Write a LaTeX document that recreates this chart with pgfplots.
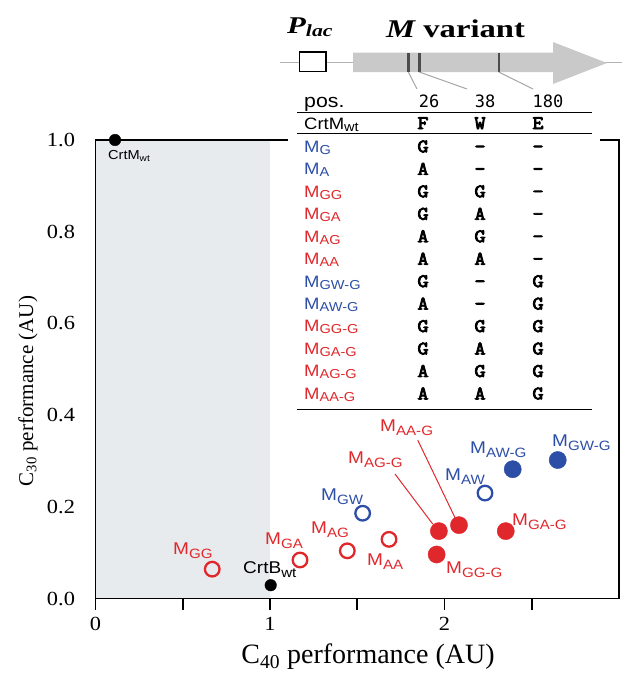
\documentclass[border=0pt]{standalone}
\usepackage{pgfplots}
\pgfplotsset{compat=1.18}
\usepackage{fontspec}
\setmainfont{Liberation Serif}
\newfontfamily\ssf{Liberation Sans}[FakeStretch=1.12]
\newfontfamily\tmono{Latin Modern Mono}[FakeBold=4.5,FakeStretch=1.12]
\newfontfamily\dmono{DejaVu Sans Mono}
\newfontfamily\tnr{Liberation Serif}
\newfontfamily\tnrt{Liberation Serif}[FakeStretch=1.12]
\newfontfamily\tnrw{Liberation Serif}[FakeStretch=1.28]
\definecolor{mred}{HTML}{E0282C}
\definecolor{mblue}{HTML}{2C4EA6}
\definecolor{shadec}{HTML}{E8EBED}
\definecolor{arrowgray}{HTML}{C9C9C9}
\newcommand{\Mlab}[1]{{\ssf\fontsize{17}{17}\selectfont M\raisebox{-4pt}{\fontsize{13.5}{13.5}\selectfont #1}}}
\newcommand{\Mtab}[1]{{\ssf\fontsize{16.5}{16.5}\selectfont M\raisebox{-2pt}{\fontsize{13}{13}\selectfont #1}}}
\newcommand{\aalet}[1]{{\tmono\fontsize{19}{19}\selectfont #1}}
\begin{document}
\begin{tikzpicture}
\useasboundingbox (0pt,0pt) rectangle (622pt,-675pt);
\begin{axis}[
  at={(95.5pt,-598.5pt)}, anchor=south west,
  x=174.5pt, y=458.5pt,
  xmin=0, xmax=3, ymin=0, ymax=1,
  clip=false,
  axis line style={line width=1.8pt},
  xtick={0,1,2}, xticklabels={0,1,2},
  minor xtick={0.5,1.5,2.5},
  xtick pos=bottom, tick align=outside,
  major tick length=11pt, minor tick length=11pt,
  every tick/.style={line width=1.8pt, black},
  ytick={0,0.2,0.4,0.6,0.8,1.0}, yticklabels={0.0,0.2,0.4,0.6,0.8,1.0},
  ytick pos=left, ytick style={draw=none},
  /pgf/number format/assume math mode=true,
  ticklabel style={font=\tnrt\fontsize{20}{20}\selectfont},
  yticklabel style={xshift=-6pt},
  xticklabel style={yshift=-4pt},
]
\fill[shadec] ([xshift=0.9pt,yshift=0.9pt]axis cs:0,0) rectangle ([yshift=-0.9pt]axis cs:1,1);
% wild types
\addplot[only marks, mark=*, mark size=5.8pt, black] coordinates {(0.112,1.0) (1.004,0.029)};
% open red
\addplot[only marks, mark=o, mark size=7.3pt, mred, line width=2.3pt, mark options={fill=white}] coordinates {(0.669,0.064) (1.172,0.084) (1.443,0.104) (1.682,0.129)};
% open blue
\addplot[only marks, mark=o, mark size=7.3pt, mblue, line width=2.3pt, mark options={fill=white}] coordinates {(1.531,0.186) (2.232,0.230)};
% filled blue
\addplot[only marks, mark=*, mark size=8.6pt, mblue] coordinates {(2.391,0.282) (2.649,0.302)};
% filled red
\addplot[only marks, mark=*, mark size=8.6pt, mred] coordinates {(2.351,0.147) (1.968,0.147) (2.083,0.160) (1.955,0.096)};
\end{axis}
\begin{scope}[x=1pt,y=-1pt]
% cover top line behind table
\fill[white] (288,134) rectangle (600,146);
% axis labels
\node[rotate=90, font=\tnr\fontsize{21}{21}\selectfont] at (28,391) {C\textsubscript{30} performance (AU)};
\node[font=\tnr\fontsize{28}{28}\selectfont] at (368,657) {C\textsubscript{40} performance (AU)};
% point labels
\node[anchor=base west, inner sep=0pt] at (108,159) {{\ssf\fontsize{13}{13}\selectfont CrtM\raisebox{-2.5pt}{\fontsize{9}{9}\selectfont wt}}};
\node[anchor=base west, inner sep=0pt] at (243,573) {{\ssf\fontsize{17}{17}\selectfont CrtB\raisebox{-4pt}{\fontsize{13.5}{13.5}\selectfont wt}}};
\node[anchor=base west, inner sep=0pt, mred] at (173,554) {\Mlab{GG}};
\node[anchor=base west, inner sep=0pt, mred] at (265,544) {\Mlab{GA}};
\node[anchor=base west, inner sep=0pt, mred] at (311,533) {\Mlab{AG}};
\node[anchor=base west, inner sep=0pt, mred] at (367,565) {\Mlab{AA}};
\node[anchor=base west, inner sep=0pt, mblue] at (321,500) {\Mlab{GW}};
\node[anchor=base west, inner sep=0pt, mblue] at (445,480) {\Mlab{AW}};
\node[anchor=base west, inner sep=0pt, mblue] at (470,453) {\Mlab{AW-G}};
\node[anchor=base west, inner sep=0pt, mblue] at (552,446.7) {\Mlab{GW-G}};
\node[anchor=base west, inner sep=0pt, mred] at (512,525) {\Mlab{GA-G}};
\node[anchor=base west, inner sep=0pt, mred] at (446,573) {\Mlab{GG-G}};
\node[anchor=base west, inner sep=0pt, mred] at (348,463) {\Mlab{AG-G}};
\node[anchor=base west, inner sep=0pt, mred] at (380,431.7) {\Mlab{AA-G}};
\draw[mred, line width=1pt] (395,474) -- (432.7,524);
\draw[mred, line width=1pt] (417.7,440) -- (455.3,518.3);
% gene diagram
\draw[gray!60, line width=0.8pt] (280,62) -- (622,62);
\fill[arrowgray] (353,52.5) -- (553,52.5) -- (553,42) -- (607,63) -- (553,84) -- (553,72) -- (353,72) -- cycle;
\draw[black, line width=1.5pt, fill=white] (299.5,52) rectangle (326,71.5);
\foreach \xx in {408.3,419.3,498.7} \draw[black!70, line width=2.4pt] (\xx,52.5) -- (\xx,72);
\draw[gray!70, line width=1pt] (408.3,72) -- (417,89);
\draw[gray!70, line width=1pt] (419.3,72) -- (467,89);
\draw[gray!70, line width=1pt] (498.7,72) -- (533,89);
\node[anchor=base west, inner sep=0pt] at (287,33.3) {{\tnrw\bfseries\itshape\fontsize{24}{24}\selectfont P\raisebox{-3pt}{\fontsize{17}{17}\selectfont lac}}};
\node[anchor=base west, inner sep=0pt] at (386,37.3) {{\tnrw\bfseries\fontsize{25.5}{25.5}\selectfont\itshape M\upshape\ variant}};
% table
\node[anchor=base west, inner sep=0pt] at (304,107) {{\ssf\fontsize{19}{19}\selectfont pos.}};
\node[anchor=base, inner sep=0pt] at (429,107) {{\dmono\fontsize{17}{17}\selectfont 26}};
\node[anchor=base, inner sep=0pt] at (485,107) {{\dmono\fontsize{17}{17}\selectfont 38}};
\node[anchor=base, inner sep=0pt] at (548,107) {{\dmono\fontsize{17}{17}\selectfont 180}};
\draw[line width=1.4pt] (297,112.3) -- (592,112.3);
\node[anchor=base west, inner sep=0pt] at (304,129) {{\ssf\fontsize{16.5}{16.5}\selectfont CrtM\raisebox{-2pt}{\fontsize{13}{13}\selectfont wt}}};
\node[anchor=base, inner sep=0pt] at (423,129) {\aalet{F}};
\node[anchor=base, inner sep=0pt] at (480,129) {\aalet{W}};
\node[anchor=base, inner sep=0pt] at (538,129) {\aalet{E}};
\draw[line width=1.4pt] (297,133.3) -- (592,133.3);
\def\rowsep{22.46}
\foreach \lab/\col/\a/\b/\c [count=\k from 0] in {
  G/mblue/G/-/-,
  A/mblue/A/-/-,
  GG/mred/G/G/-,
  GA/mred/G/A/-,
  AG/mred/A/G/-,
  AA/mred/A/A/-,
  GW-G/mblue/G/-/G,
  AW-G/mblue/A/-/G,
  GG-G/mred/G/G/G,
  GA-G/mred/G/A/G,
  AG-G/mred/A/G/G,
  AA-G/mred/A/A/G} {
  \pgfmathsetmacro{\yy}{152.3+\k*\rowsep}
  \node[anchor=base west, inner sep=0pt, text=\col] at (304,\yy) {\Mtab{\lab}};
  \node[anchor=base, inner sep=0pt] at (423,\yy) {\aalet{\a}};
  \node[anchor=base, inner sep=0pt] at (480,\yy) {\aalet{\b}};
  \node[anchor=base, inner sep=0pt] at (538,\yy) {\aalet{\c}};
}
\draw[line width=1.4pt] (297,409.3) -- (592,409.3);
\end{scope}
\end{tikzpicture}
\end{document}
